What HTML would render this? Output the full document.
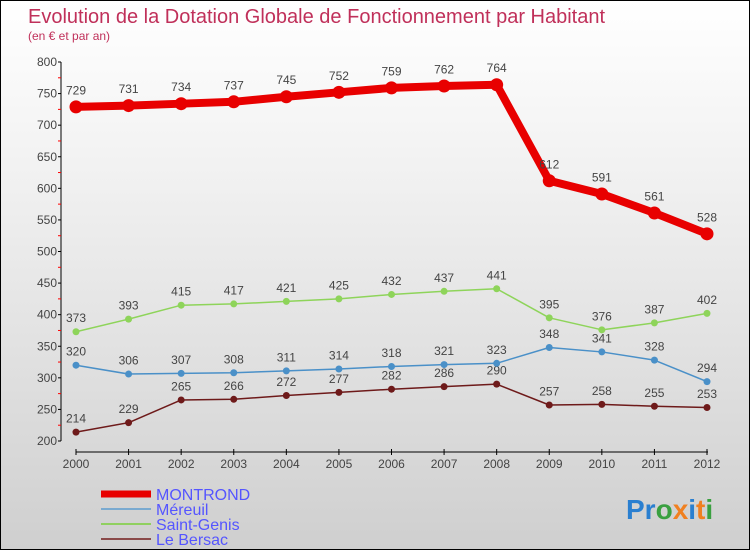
<!DOCTYPE html>
<html><head><meta charset="utf-8"><style>
body{margin:0}
#c{width:750px;height:550px;position:relative;box-sizing:border-box;border:1px solid #000;background:linear-gradient(#fff 0%,#f2f2f2 30%,#cfcfcf 100%);font-family:"Liberation Sans",sans-serif;overflow:hidden}
</style></head><body>
<div id="c">
<svg width="750" height="550" id="s">
<text x="27" y="22" font-size="20" fill="#c0305a">Evolution de la Dotation Globale de Fonctionnement par Habitant</text>
<text x="27" y="39" font-size="12" fill="#c0305a">(en € et par an)</text>
<g id="g"></g>
<text x="625" y="518" font-size="28" font-weight="bold"><tspan fill="#2a7fd0">Pr</tspan><tspan fill="#3aa040">o</tspan><tspan fill="#f08020">x</tspan><tspan fill="#2a7fd0">i</tspan><tspan fill="#f08020">t</tspan><tspan fill="#3aa040">i</tspan></text>
</svg></div>
<script>
const years=[2000,2001,2002,2003,2004,2005,2006,2007,2008,2009,2010,2011,2012];
const yTicks=[200,250,300,350,400,450,500,550,600,650,700,750,800];
const montrond=[729,731,734,737,745,752,759,762,764,612,591,561,528];
const mereuil=[320,306,307,308,311,314,318,321,323,348,341,328,294];
const saintGenis=[373,393,415,417,421,425,432,437,441,395,376,387,402];
const leBersac=[214,229,265,266,272,277,282,286,290,257,258,255,253];
const NS="http://www.w3.org/2000/svg";
const g=document.getElementById('g');
const X=i=>75+i*(706-75)/12;
const Y=v=>440-(v-200)*(440-61)/600;
function el(t,a,p){const e=document.createElementNS(NS,t);for(const k in a)e.setAttribute(k,a[k]);(p||g).appendChild(e);return e;}
let e=el('line',{x1:60,y1:61,x2:60,y2:440,stroke:'#000'});

yTicks.forEach(v=>{
 let t=el('line',{x1:57,x2:60,y1:Y(v),y2:Y(v),stroke:'#000'});
 
 let r=el('line',{x1:57,x2:60,y1:Y(v+25),y2:Y(v+25),stroke:'#f00'});
 if(v==800)r.remove();
 let l=el('text',{x:56,y:Y(v)+4,'font-size':12,'text-anchor':'end',fill:'#444'});l.textContent=v;
 
});
e=el('line',{x1:75,y1:451,x2:707,y2:451,stroke:'#000'});

years.forEach((y,i)=>{
 let t=el('line',{x1:X(i),x2:X(i),y1:448,y2:454,stroke:'#000'});
 
 let l=el('text',{x:X(i),y:467,'font-size':12,'text-anchor':'middle',fill:'#444'});l.textContent=y;
 
});
function series(d,color,w,r,name){
 let p=el('polyline',{points:d.map((v,i)=>X(i)+','+Y(v)).join(' '),fill:'none',stroke:color,'stroke-width':w,'stroke-linejoin':'round'});
 
 d.forEach((v,i)=>{
  let c=el('circle',{cx:X(i),cy:Y(v),r:r,fill:color});
  
  let l=el('text',{x:X(i),y:Y(v)-(r+6),'font-size':12,'text-anchor':'middle',fill:'#444'});l.textContent=v;
  
 });
}
series(leBersac,'#6e1a1a',1.5,3.5,'le-bersac');
series(mereuil,'#4a90c8',1.5,3.5,'mereuil');
series(saintGenis,'#8ed45a',1.5,3.5,'saint-genis');
series(montrond,'#e80000',8,6.5,'montrond');
const leg=[['MONTROND','#e80000',7],['Méreuil','#7aaad0',2],['Saint-Genis','#90d060',2],['Le Bersac','#8a4a4a',2]];
leg.forEach((L,i)=>{
 const y=493+i*15;
 let ln=el('line',{x1:100,x2:150,y1:y,y2:y,stroke:L[1],'stroke-width':L[2]});
 
 let t=el('text',{x:155,y:y+6,'font-size':16,fill:'#5555ff'});t.textContent=L[0];
 
});
</script>
</body></html>
